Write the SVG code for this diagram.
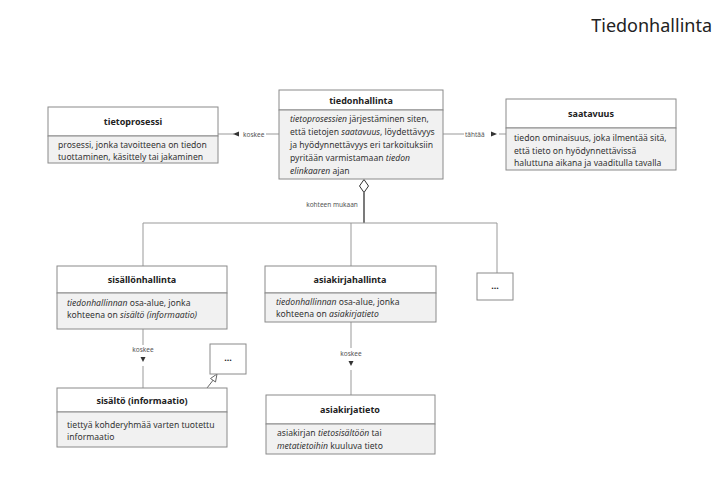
<svg xmlns="http://www.w3.org/2000/svg" width="725" height="481" viewBox="0 0 725 481">
<style>
.box{fill:#ffffff;stroke:#8a8a8a;stroke-width:1}
.body{fill:#f1f1f1;stroke:#8a8a8a;stroke-width:1}
.hd{font-family:"Noto Sans","Open Sans",sans-serif;font-size:9px;font-weight:bold;fill:#222;text-anchor:middle}
.tx{font-family:"Noto Sans","Open Sans",sans-serif;font-size:8.6px;fill:#333}
.lb{font-family:"Noto Sans","Open Sans",sans-serif;font-size:6.5px;fill:#555}
.ln{stroke:#999;stroke-width:1;fill:none}
.dk{stroke:#333;stroke-width:1.3;fill:none}
.it{font-style:italic}
</style>
<rect width="725" height="481" fill="#ffffff"/>
<text x="712" y="32" font-family="'Noto Sans','Open Sans',sans-serif" font-size="18" fill="#222" text-anchor="end">Tiedonhallinta</text>

<g id="connectors">
  <line class="ln" x1="218" y1="134" x2="234" y2="134"/>
  <polygon points="233,134 239,131.5 239,136.5" fill="#333"/>
  <text class="lb" x="243" y="136.5">koskee</text>
  <line class="ln" x1="266" y1="134" x2="279" y2="134"/>

  <line class="ln" x1="443" y1="134" x2="464" y2="134"/>
  <text class="lb" x="465" y="136.5">tähtää</text>
  <polygon points="497,134 491,131.5 491,136.5" fill="#333"/>
  <line class="ln" x1="499" y1="134" x2="506" y2="134"/>

  <polygon points="364,179.5 368.5,186 364,192.5 359.5,186" fill="#fff" stroke="#333" stroke-width="1"/>
  <line class="dk" x1="364" y1="192.5" x2="364" y2="223"/>
  <text class="lb" x="332" y="207" text-anchor="middle">kohteen mukaan</text>
  <polyline class="ln" points="143,266 143,223 497,223 497,273"/>
  <line class="ln" x1="351" y1="223" x2="351" y2="266"/>

  <line class="ln" x1="143" y1="329" x2="143" y2="345"/>
  <text class="lb" x="143" y="352" text-anchor="middle">koskee</text>
  <polygon points="143,362 140.5,357 145.5,357" fill="#333"/>
  <line class="ln" x1="143" y1="366" x2="143" y2="388"/>

  <line class="ln" x1="351" y1="322" x2="351" y2="348"/>
  <text class="lb" x="351" y="356" text-anchor="middle">koskee</text>
  <polygon points="351,366 348.5,361 353.5,361" fill="#333"/>
  <line class="ln" x1="351" y1="370" x2="351" y2="395"/>

  <line stroke="#666" stroke-width="1" x1="207" y1="388" x2="214" y2="379"/>
  <polygon points="217,374 215.5,382 210.5,378.5" fill="#fff" stroke="#666" stroke-width="1"/>
</g>

<g id="tietoprosessi">
  <rect class="box" x="48" y="107" width="170" height="29"/>
  <rect class="body" x="48" y="136" width="170" height="27"/>
  <text class="hd" x="133" y="125">tietoprosessi</text>
  <text class="tx" x="58" y="148">prosessi, jonka tavoitteena on tiedon</text>
  <text class="tx" x="58" y="160">tuottaminen, käsittely tai jakaminen</text>
</g>

<g id="tiedonhallinta">
  <rect class="box" x="279" y="90" width="164" height="20"/>
  <rect class="body" x="279" y="110" width="164" height="69"/>
  <text class="hd" x="361" y="104">tiedonhallinta</text>
  <text class="tx" x="290" y="122"><tspan class="it">tietoprosessien</tspan> järjestäminen siten,</text>
  <text class="tx" x="290" y="135">että tietojen <tspan class="it">saatavuus</tspan>, löydettävyys</text>
  <text class="tx" x="290" y="148">ja hyödynnettävyys eri tarkoituksiin</text>
  <text class="tx" x="290" y="161">pyritään varmistamaan <tspan class="it">tiedon</tspan></text>
  <text class="tx" x="290" y="174"><tspan class="it">elinkaaren</tspan> ajan</text>
</g>

<g id="saatavuus">
  <rect class="box" x="506" y="99" width="170" height="29"/>
  <rect class="body" x="506" y="128" width="170" height="42"/>
  <text class="hd" x="591" y="117">saatavuus</text>
  <text class="tx" x="514" y="141">tiedon ominaisuus, joka ilmentää sitä,</text>
  <text class="tx" x="514" y="153.5">että tieto on hyödynnettävissä</text>
  <text class="tx" x="514" y="166">haluttuna aikana ja vaaditulla tavalla</text>
</g>

<g id="sisallonhallinta">
  <rect class="box" x="57" y="266" width="170" height="27"/>
  <rect class="body" x="57" y="293" width="170" height="36"/>
  <text class="hd" x="142" y="283">sisällönhallinta</text>
  <text class="tx" x="67" y="306"><tspan class="it">tiedonhallinnan</tspan> osa-alue, jonka</text>
  <text class="tx" x="67" y="318">kohteena on <tspan class="it">sisältö (informaatio)</tspan></text>
</g>

<g id="asiakirjahallinta">
  <rect class="box" x="265" y="266" width="171" height="27"/>
  <rect class="body" x="265" y="293" width="171" height="29"/>
  <text class="hd" x="350" y="283">asiakirjahallinta</text>
  <text class="tx" x="276" y="305"><tspan class="it">tiedonhallinnan</tspan> osa-alue, jonka</text>
  <text class="tx" x="276" y="317">kohteena on <tspan class="it">asiakirjatieto</tspan></text>
</g>

<g id="more1">
  <rect class="box" x="477" y="273" width="36" height="27"/>
  <text class="hd" x="495" y="289">...</text>
</g>

<g id="sisalto">
  <rect class="box" x="57" y="388" width="170" height="24"/>
  <rect class="body" x="57" y="412" width="170" height="35"/>
  <text class="hd" x="142" y="404">sisältö (informaatio)</text>
  <text class="tx" x="67" y="428">tiettyä kohderyhmää varten tuotettu</text>
  <text class="tx" x="67" y="440">informaatio</text>
</g>

<g id="more2">
  <rect class="box" x="210" y="344" width="36" height="30"/>
  <text class="hd" x="228" y="361">...</text>
</g>

<g id="asiakirjatieto">
  <rect class="box" x="266" y="395" width="169" height="29"/>
  <rect class="body" x="266" y="424" width="169" height="30"/>
  <text class="hd" x="350" y="413">asiakirjatieto</text>
  <text class="tx" x="277" y="436">asiakirjan <tspan class="it">tietosisältöön</tspan> tai</text>
  <text class="tx" x="277" y="449"><tspan class="it">metatietoihin</tspan> kuuluva tieto</text>
</g>
</svg>
